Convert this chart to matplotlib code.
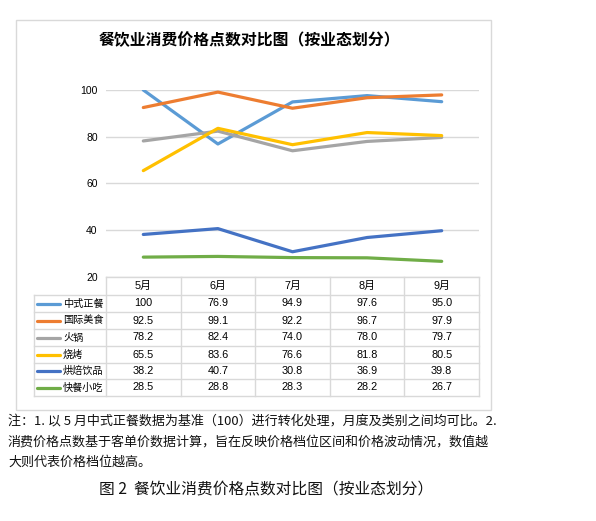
import matplotlib
matplotlib.use("Agg")
import matplotlib.pyplot as plt
from matplotlib.patches import Rectangle

plt.rcParams['font.family'] = ['Noto Sans CJK SC', 'DejaVu Sans']

months = ["5月", "6月", "7月", "8月", "9月"]
series_names = ["中式正餐", "国际美食", "火锅", "烧烤", "烘焙饮品", "快餐小吃"]
zhongshi = [100, 76.9, 94.9, 97.6, 95.0]
guoji = [92.5, 99.1, 92.2, 96.7, 97.9]
huoguo = [78.2, 82.4, 74.0, 78.0, 79.7]
shaokao = [65.5, 83.6, 76.6, 81.8, 80.5]
hongbei = [38.2, 40.7, 30.8, 36.9, 39.8]
kuaican = [28.5, 28.8, 28.3, 28.2, 26.7]
values = [zhongshi, guoji, huoguo, shaokao, hongbei, kuaican]
value_labels = [
    ["100", "76.9", "94.9", "97.6", "95.0"],
    ["92.5", "99.1", "92.2", "96.7", "97.9"],
    ["78.2", "82.4", "74.0", "78.0", "79.7"],
    ["65.5", "83.6", "76.6", "81.8", "80.5"],
    ["38.2", "40.7", "30.8", "36.9", "39.8"],
    ["28.5", "28.8", "28.3", "28.2", "26.7"],
]
colors = ["#5B9BD5", "#ED7D31", "#A5A5A5", "#FFC000", "#4472C4", "#70AD47"]
yticks = [20, 40, 60, 80, 100]

title = "餐饮业消费价格点数对比图（按业态划分）"
note_lines = [
    "注：1. 以 5 月中式正餐数据为基准（100）进行转化处理，月度及类别之间均可比。2.",
    "消费价格点数基于客单价数据计算，旨在反映价格档位区间和价格波动情况，数值越",
    "大则代表价格档位越高。",
]
caption = "图 2  餐饮业消费价格点数对比图（按业态划分）"

W, H = 596, 521
fig = plt.figure(figsize=(W / 100, H / 100), dpi=100)

# overlay axes in pixel coordinates
ov = fig.add_axes([0, 0, 1, 1])
ov.set_xlim(0, W)
ov.set_ylim(H, 0)
ov.axis('off')

grid_c = "#D9D9D9"
num_font = ['Liberation Sans', 'Noto Sans CJK SC', 'DejaVu Sans']

# outer chart border
ov.add_patch(Rectangle((16, 20), 475, 390, fill=False, edgecolor=grid_c, lw=1))

# plot area
pl, pr, pt, pb = 106, 479, 90, 277
ax = fig.add_axes([pl / W, 1 - pb / H, (pr - pl) / W, (pb - pt) / H])
n = len(months)
x = list(range(n))
for vals, c in zip(values, colors):
    ax.plot(x, vals, color=c, lw=2.3, solid_capstyle='round', zorder=3)
ax.set_xlim(-0.5, n - 0.5)
ax.set_ylim(20, 100)
ax.set_yticks(yticks)
ax.set_yticklabels([str(v) for v in yticks], fontsize=7.5, family=num_font)
ax.tick_params(axis='y', length=0, pad=6)
ax.set_xticks([])
for s in ax.spines.values():
    s.set_visible(False)
ax.yaxis.grid(True, color=grid_c, lw=1)
ax.set_axisbelow(True)
ax.patch.set_alpha(0)

# title
ov.text(249, 40, title, ha='center', va='center', fontsize=11.4, fontweight='bold')

# data table
col_w = (pr - pl) / n
bounds = [pl + i * col_w for i in range(n + 1)]
row_tops = [277, 295, 312, 329, 346, 363, 379, 396]
left_x = 34
ov.plot([pl, pr], [row_tops[0], row_tops[0]], color=grid_c, lw=1)
for y in row_tops[1:]:
    ov.plot([left_x, pr], [y, y], color=grid_c, lw=1)
for bx in bounds:
    ov.plot([bx, bx], [row_tops[0], row_tops[-1]], color=grid_c, lw=1)
ov.plot([left_x, left_x], [row_tops[1], row_tops[-1]], color=grid_c, lw=1)

centers = [(bounds[i] + bounds[i + 1]) / 2 for i in range(n)]
for i, m in enumerate(months):
    ov.text(centers[i], (row_tops[0] + row_tops[1]) / 2, m, ha='center', va='center',
            fontsize=7.8, family=num_font)
for r, (name, labs, c) in enumerate(zip(series_names, value_labels, colors)):
    yc = (row_tops[r + 1] + row_tops[r + 2]) / 2
    ov.plot([37, 60], [yc, yc], color=c, lw=2.3, solid_capstyle='round')
    ov.text(63, yc, name, ha='left', va='center', fontsize=7.3)
    for i, lab in enumerate(labs):
        ov.text(centers[i], yc, lab, ha='center', va='center', fontsize=7.8, family=num_font)

# notes
for k, line in enumerate(note_lines):
    ov.text(8, 422 + 20 * k, line, ha='left', va='center', fontsize=9.4, color='#111111')
ov.text(266, 490, caption, ha='center', va='center', fontsize=11.3, color='#111111')

fig.savefig("out.png", dpi=100)
